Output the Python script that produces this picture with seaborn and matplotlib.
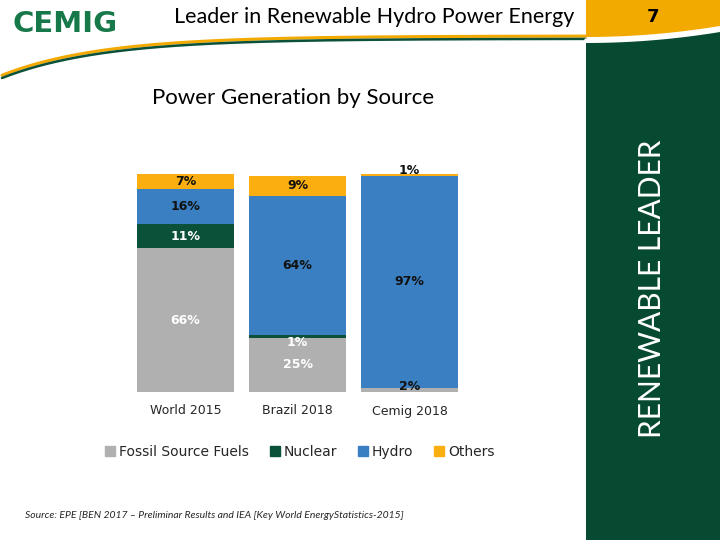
import numpy as np
import pandas as pd
import matplotlib
matplotlib.use("Agg")
import matplotlib.pyplot as plt
from matplotlib.patches import Patch, Polygon
import seaborn as sns

# data
categories = ['World 2015', 'Brazil 2018', 'Cemig 2018']
sources = ['Fossil Source Fuels', 'Nuclear', 'Hydro', 'Others']
fossil = [66, 25, 2]
nuclear = [11, 1, 0]
hydro = [16, 64, 97]
others = [7, 9, 1]

colors = {'Fossil Source Fuels': '#B0B0B0', 'Nuclear': '#0B5038',
          'Hydro': '#3A7FC2', 'Others': '#FBAE10'}
# label text colour per source / category
label_colors = {
    'Fossil Source Fuels': ['white', 'white', '#111111'],
    'Nuclear': ['white', 'white', None],
    'Hydro': ['#111111', '#111111', '#111111'],
    'Others': ['#111111', '#111111', '#111111'],
}
# nudges for labels that sit outside small segments
label_nudge = {('Nuclear', 1): -2.7, ('Others', 2): 2.3, ('Fossil Source Fuels', 2): 1.3}

df = pd.DataFrame({'category': categories, 'Fossil Source Fuels': fossil,
                   'Nuclear': nuclear, 'Hydro': hydro, 'Others': others})
cum = df[sources].cumsum(axis=1)

sns.set_style('white')
fig = plt.figure(figsize=(7.2, 5.4), dpi=100)
fig.patch.set_facecolor('white')

# background decoration (header, swoosh, side panel)
bg = fig.add_axes([0, 0, 1, 1], zorder=0)
bg.set_xlim(0, 720)
bg.set_ylim(540, 0)
bg.axis('off')
xs = np.linspace(586, 720, 50)
curve_r = 37 - 11 * ((xs - 586) / 134) ** 2
bg.add_patch(Polygon(np.column_stack([np.r_[586, xs, 720], np.r_[0, curve_r, 0]]),
                     closed=True, color='#F2A900', lw=0))
bg.add_patch(Polygon(np.column_stack([np.r_[586, xs, 720], np.r_[540, curve_r + 6, 540]]),
                     closed=True, color='#064A31', lw=0))
sx = np.linspace(2, 586, 200)
sy = 36 + 40 * np.exp(-sx / 100)
bg.plot(sx, sy, color='#F2A900', lw=2.2, solid_capstyle='round')
bg.plot(sx, sy + 2.8, color='#0B5038', lw=1.8, solid_capstyle='round')
bg.plot(xs, curve_r + 3, color='white', lw=2.5)

bg.text(12, 24, 'CEMIG', color='#17784A', fontsize=21, fontweight='heavy',
        va='center', ha='left', family='DejaVu Sans')
bg.text(374, 17, 'Leader in Renewable Hydro Power Energy', fontsize=15.5,
        family='Lato', ha='center', va='center', color='black')
bg.text(653, 17, '7', fontsize=13, fontweight='bold', ha='center', va='center',
        family='DejaVu Sans', color='black')
bg.text(293, 98, 'Power Generation by Source', fontsize=16, family='Lato',
        ha='center', va='center', color='black')
bg.text(652, 289, 'RENEWABLE LEADER', fontsize=21.5, family='Lato', color='white',
        rotation=90, ha='center', va='center')
bg.text(25, 516, 'Source: EPE [BEN 2017 \u2013 Preliminar Results and IEA [Key World EnergyStatistics-2015]',
        fontsize=7.5, family='Lato', fontstyle='italic', ha='left', va='center')

# stacked bars
ax = fig.add_axes([129.5 / 720, 148 / 540, 336 / 720, 218 / 540], zorder=1)
ax.patch.set_alpha(0)
for src in reversed(sources):
    sns.barplot(x=df['category'], y=cum[src], color=colors[src], width=0.866,
                saturation=1, ax=ax, linewidth=0)

for i in range(len(categories)):
    for src in sources:
        val = df.loc[i, src]
        if val == 0:
            continue
        mid = cum.loc[i, src] - val / 2 + label_nudge.get((src, i), 0)
        ax.text(i, mid, f'{val}%', ha='center', va='center', fontsize=9,
                fontweight='bold', color=label_colors[src][i], clip_on=False)

ax.set_xlim(-0.5, 2.5)
ax.set_ylim(0, 100)
ax.set_xlabel('')
ax.set_ylabel('')
ax.set_yticks([])
ax.tick_params(axis='x', length=0, labelsize=9, pad=9)
sns.despine(ax=ax, left=True, bottom=True)

handles = [Patch(color=colors[s], label=s) for s in sources]
fig.legend(handles=handles, loc='center', bbox_to_anchor=(300 / 720, 1 - 452 / 540),
           ncol=4, frameon=False, fontsize=10, handlelength=0.7, handleheight=0.7,
           handletextpad=0.3, columnspacing=1.5)

fig.savefig('out.png', dpi=100)
